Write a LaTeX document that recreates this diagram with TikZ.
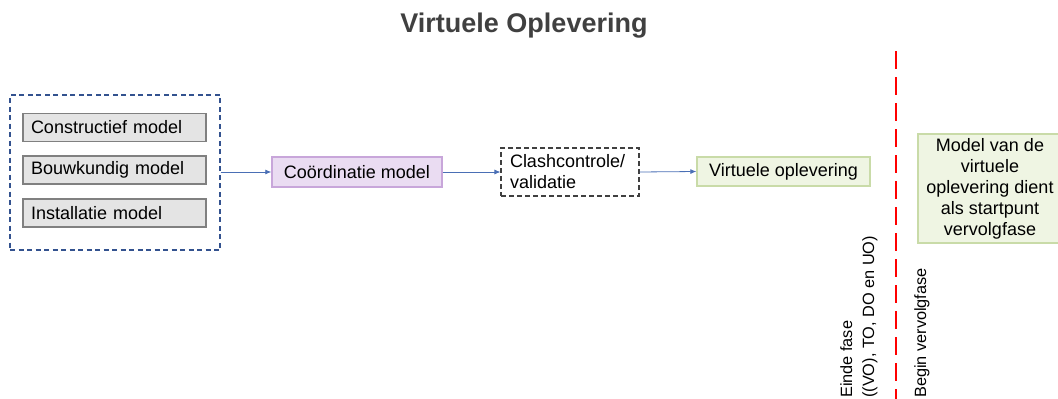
\documentclass[tikz,border=0pt]{standalone}
\usepackage{fontspec}
\setmainfont{Liberation Sans}
\usetikzlibrary{arrows.meta}
\definecolor{titlegray}{HTML}{404040}
\definecolor{grpblue}{HTML}{33528F}
\definecolor{arrblue}{HTML}{4A6FB5}
\definecolor{grayfill}{HTML}{E4E4E4}
\definecolor{grayline}{HTML}{808080}
\definecolor{purpfill}{HTML}{EADCF2}
\definecolor{purpline}{HTML}{C8A6DA}
\definecolor{greenfill}{HTML}{EFF5E3}
\definecolor{greenline}{HTML}{C9DBA8}
\definecolor{phasered}{HTML}{FF0000}
\tikzset{
  txt/.style={font=\fontsize{18}{21}\selectfont, text=black},
  modelbox/.style={txt, draw=grayline, line width=1.6pt, fill=grayfill,
    minimum height=28pt, inner xsep=8pt, text width=167pt, align=left},
  purpbox/.style={txt, draw=purpline, line width=1.4pt, fill=purpfill,
    minimum width=170pt, minimum height=30pt},
  greenbox/.style={txt, draw=greenline, line width=1.4pt, fill=greenfill},
  clashbox/.style={txt, draw=titlegray, line width=1.1pt, dash pattern=on 5pt off 3pt,
    fill=white, minimum width=138pt, minimum height=48pt, inner xsep=9pt,
    text width=120pt, align=left},
  groupbox/.style={draw=grpblue, line width=1.1pt, dash pattern=on 5pt off 3.5pt},
  flow/.style={draw=arrblue, line width=0.8pt, -{Latex[length=6pt,width=5pt]}},
  rottxt/.style={font=\fontsize{16.3}{22}\selectfont, rotate=90, inner sep=0pt, align=left}
}
\begin{document}
\begin{tikzpicture}[x=1pt,y=-1pt]
\useasboundingbox (0,0) rectangle (1058,399);
\clip (0,0) rectangle (1058,399);

\node[font=\fontsize{27}{30}\selectfont\bfseries, text=titlegray] (title) at (524,26) {Virtuele Oplevering};

\node[groupbox, minimum width=210pt, minimum height=155pt, inner sep=0pt] (group) at (115,172.5) {};
\node[modelbox] (constr) at (114.5,127.5) {Constructief model};
\node[modelbox] (bouw) at (114.5,170) {Bouwkundig model};
\node[modelbox] (inst) at (114.5,213) {Installatie model};

\node[purpbox] (coord) at (357,172) {Coördinatie model};
\node[clashbox] (clash) at (570,172) {Clashcontrole/\\validatie};
\node[greenbox, minimum width=173pt, minimum height=29pt] (virt) at (783.5,171.5) {Virtuele oplevering};
\node[greenbox, minimum width=144pt, minimum height=109pt, align=center] (start) at (990,188.5)
  {Model van de\\virtuele\\oplevering dient\\als startpunt\\vervolgfase};

\draw[flow] (group.east |- coord.west) -- (coord.west);
\draw[flow] (coord.east) -- (clash.west);
\draw[flow] (clash.east) -- (virt.west);

\coordinate (redtop) at (896,51);
\coordinate (redbot) at (896,399);
\draw[phasered, line width=2.6pt, dash pattern=on 18pt off 8pt] (redtop) -- (redbot);

\node[rottxt, anchor=north west] (einde) at (840,398) {Einde fase\\((VO), TO, DO en UO)};
\node[rottxt, anchor=north west] (begin) at (914,398) {Begin vervolgfase};
\end{tikzpicture}
\end{document}
